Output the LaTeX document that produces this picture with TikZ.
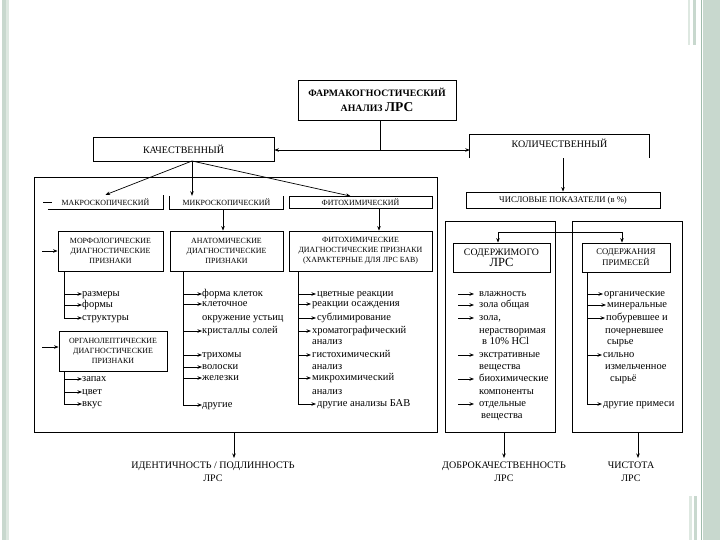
\documentclass[tikz,border=0pt]{standalone}
\usepackage{fontspec}
\setmainfont{Liberation Serif}
\usetikzlibrary{arrows.meta}
\definecolor{decoA}{RGB}{200,216,206}
\definecolor{decoB}{RGB}{160,188,172}
\definecolor{decoC}{RGB}{222,232,225}
\begin{document}
\begin{tikzpicture}[x=1pt,y=-1pt,
  box/.style={draw, line width=0.8pt, inner sep=0pt, align=center},
  nobox/.style={inner sep=0pt, align=center},
  ln/.style={line width=0.8pt},
  arr/.style={-{Stealth[length=4.5pt,width=3.5pt]}, line width=0.7pt},
  itm/.style={anchor=west, inner sep=0pt, text height=7pt, text depth=2pt, font=\fontsize{10.5}{12}\selectfont},
  capS/.style={font=\fontsize{7.9}{10}\selectfont},
  capM/.style={font=\fontsize{8.6}{11}\selectfont},
  capL/.style={font=\fontsize{10}{13}\selectfont}]
\useasboundingbox (0,0) rectangle (720,540);
\fill[white] (0,0) rectangle (720,540);
% decoration
\fill[decoA] (2,0) rectangle (6,540);
\fill[decoC] (6,0) rectangle (9,540);
\fill[decoA] (703,0) rectangle (720,540);
\fill[decoB] (700.5,0) rectangle (702,540);
\fill[decoC] (688,0) rectangle (690,45);
\fill[decoA] (693,0) rectangle (696,45);
\fill[decoC] (689,496) rectangle (692,540);
\fill[decoA] (694,496) rectangle (697,540);

% title
\node[box, minimum width=158pt, minimum height=40pt, font=\fontsize{9.8}{15}\selectfont\bfseries] (t) at (377,100)
  {ФАРМАКОГНОСТИЧЕСКИЙ\\ АНАЛИЗ {\fontsize{13.5}{14}\selectfont ЛРС}};
\draw[line width=1.4pt] (t.south west) -- (t.south east) -- (t.north east);

% level 1
\node[box, capL, minimum width=181pt, minimum height=24pt] (kach) at (183.5,149) {КАЧЕСТВЕННЫЙ};
\node[nobox, minimum width=179pt, minimum height=23pt] (kol) at (559.5,146.5) {};
\node[nobox, capL] (kolt) at (559.5,143) {КОЛИЧЕСТВЕННЫЙ};
\draw[ln] (kol.south west) -- (kol.north west) -- (kol.north east) -- (kol.south east);
\coordinate (J) at (380,150);
\draw[ln] (t.south -| J) -- (J);
\draw[arr] (J) -- (kach.east |- J);
\draw[arr] (J) -- (kol.west |- J);

% qualitative frame
\draw[line width=1pt] (34,178) rectangle (437,432);

% level 2 (qualitative)
\node[nobox, capS, minimum width=115pt, minimum height=14pt] (makro) at (105.5,202) {МАКРОСКОПИЧЕСКИЙ};
\draw[ln] (makro.south west) -- (makro.south east) -- (makro.north east);
\node[nobox, capS, minimum width=113pt, minimum height=13pt] (mikro) at (226.5,202.5) {МИКРОСКОПИЧЕСКИЙ};
\draw[ln] (mikro.north west) -- (mikro.south west) -- (mikro.south east) -- (mikro.north east);
\node[box, capS, minimum width=143pt, minimum height=12pt] (fito) at (360.5,202.5) {ФИТОХИМИЧЕСКИЙ};
\coordinate (kb) at (192,161);
\draw[ln] (43,202) -- (52,202);
\draw[arr] (kb) -- (makro.north);
\draw[arr] (kb) -- (kb |- mikro.north);
\draw[arr] (kb) -- ([xshift=-10pt]fito.north);

% level 3 (qualitative)
\node[box, capS, minimum width=105pt, minimum height=40pt] (morf) at (110.5,251)
  {МОРФОЛОГИЧЕСКИЕ\\ДИАГНОСТИЧЕСКИЕ\\ПРИЗНАКИ};
\node[box, capS, minimum width=113pt, minimum height=40pt] (anat) at (226.5,251)
  {АНАТОМИЧЕСКИЕ\\ДИАГНОСТИЧЕСКИЕ\\ПРИЗНАКИ};
\node[box, capS, minimum width=143pt, minimum height=40pt] (fitoh) at (360.5,251)
  {ФИТОХИМИЧЕСКИЕ\\ДИАГНОСТИЧЕСКИЕ ПРИЗНАКИ\\(ХАРАКТЕРНЫЕ ДЛЯ ЛРС БАВ)};
\node[box, capS, minimum width=108pt, minimum height=40pt] (organ) at (113,351)
  {ОРГАНОЛЕПТИЧЕСКИЕ\\ДИАГНОСТИЧЕСКИЕ\\ПРИЗНАКИ};
\coordinate (ma) at (223,209);
\draw[arr] (ma) -- (ma |- anat.north);
\coordinate (fa) at (379,209);
\draw[arr] (fa) -- (fa |- fitoh.north);
\coordinate (inM) at (42,251);
\coordinate (inO) at (42,347);
\draw[arr] (inM) -- (morf.west |- inM);
\draw[arr] (inO) -- (organ.west |- inO);

% morphological list
\foreach \y/\t [count=\i] in {294/размеры, 305/формы, 318/структуры} {
  \coordinate (mv\i) at (64,\y);
  \node[itm] (mo\i) at (82,\y) {\t};
  \draw[arr] (mv\i) -- (mo\i.west);
}
\draw[ln] (morf.south -| mv1) -- (mv3);
% organoleptic list
\foreach \y/\t [count=\i] in {379/запах, 392/цвет, 404/вкус} {
  \coordinate (ov\i) at (64,\y);
  \node[itm] (or\i) at (82,\y) {\t};
  \draw[arr] (ov\i) -- (or\i.west);
}
\draw[ln] (organ.south -| ov1) -- (ov3);
% anatomical list
\foreach \y/\t [count=\i] in {294/форма клеток, 304/клеточное, 331/кристаллы солей, 355/трихомы, 367/волоски, 378/железки, 405/другие} {
  \coordinate (av\i) at (183,\y);
  \node[itm] (an\i) at (202,\y) {\t};
  \draw[arr] (av\i) -- (an\i.west);
}
\node[itm] (an8) at (202,318) {окружение устьиц};
\draw[ln] (anat.south -| av1) -- (av7);
% phytochemical list
\foreach \y/\x/\t [count=\i] in {294/317/цветные реакции, 304/312/реакции осаждения, 318/317/сублимирование, 331/312/хроматографический, 355/312/гистохимический, 378/312/микрохимический, 404/317/другие анализы БАВ} {
  \coordinate (fv\i) at (298,\y);
  \node[itm] (fi\i) at (\x,\y) {\t};
  \draw[arr] (fv\i) -- ([xshift=-1pt]fi\i.west);
}
\foreach \y [count=\i] in {342, 367, 392} {
  \node[itm] (fa\i) at (312,\y) {анализ};
}
\draw[ln] (fitoh.south -| fv1) -- (fv7);

% quantitative
\node[box, font=\fontsize{8.6}{10}\selectfont, minimum width=194pt, minimum height=16pt] (chisl) at (563,200) {ЧИСЛОВЫЕ ПОКАЗАТЕЛИ (в \%)};
\draw[arr] (chisl.north |- kol.south) -- (chisl.north);
\draw[line width=1pt] (445,222) rectangle (555,432);
\draw[line width=1pt] (572,222) rectangle (682,432);
\node[box, font=\fontsize{9.8}{11}\selectfont, minimum width=97pt, minimum height=29pt] (sod) at (501.5,257.5)
  {СОДЕРЖИМОГО\\{\fontsize{12.5}{12}\selectfont ЛРС}};
\node[box, capM, minimum width=88pt, minimum height=29pt] (prim) at (626,257.5)
  {СОДЕРЖАНИЯ\\ПРИМЕСЕЙ};
\coordinate (T1) at (498,232);
\coordinate (T2) at (622,232);
\draw[ln] (T1) -- (T2);
\draw[arr] (T1) -- (T1 |- sod.north);
\draw[arr] (T2) -- (T2 |- prim.north);

% contents list
\foreach \y/\t [count=\i] in {294/влажность, 305/зола общая, 318/{зола,}, 355/экстративные, 379/биохимические, 404/отдельные} {
  \coordinate (sv\i) at (458,\y);
  \node[itm] (so\i) at (479,\y) {\t};
  \draw[arr] (sv\i) -- ([xshift=-5pt]so\i.west);
}
\foreach \y/\x/\t [count=\i] in {331/479/нерастворимая, 342/482/в 10\% HCl, 367/479/вещества, 392/479/компоненты, 416/481/вещества} {
  \node[itm] (sc\i) at (\x,\y) {\t};
}
% impurities list
\foreach \y/\x/\t [count=\i] in {294/604/органические, 305/607/минеральные, 318/606/побуревшее и, 355/603/сильно, 404/603/другие примеси} {
  \coordinate (pv\i) at (587,\y);
  \node[itm] (pr\i) at (\x,\y) {\t};
  \draw[arr] (pv\i) -- ([xshift=-1pt]pr\i.west);
}
\foreach \y/\x/\t [count=\i] in {331/605/почерневшее, 342/607/сырье, 367/605/измельченное, 379/610/сырьё} {
  \node[itm] (pc\i) at (\x,\y) {\t};
}
\draw[ln] (prim.south -| pv1) -- (pv5);

% results
\node[nobox, capL] (r1) at (213,472) {ИДЕНТИЧНОСТЬ / ПОДЛИННОСТЬ\\ЛРС};
\node[nobox, capL] (r2) at (504,472) {ДОБРОКАЧЕСТВЕННОСТЬ\\ЛРС};
\node[nobox, capL] (r3) at (631,472) {ЧИСТОТА\\ЛРС};
\coordinate (b1) at (234,432);
\coordinate (b2) at (504,432);
\coordinate (b3) at (638,432);
\draw[arr] (b1) -- ++(0,26);
\draw[arr] (b2) -- ++(0,26);
\draw[arr] (b3) -- ++(0,26);
\end{tikzpicture}
\end{document}
